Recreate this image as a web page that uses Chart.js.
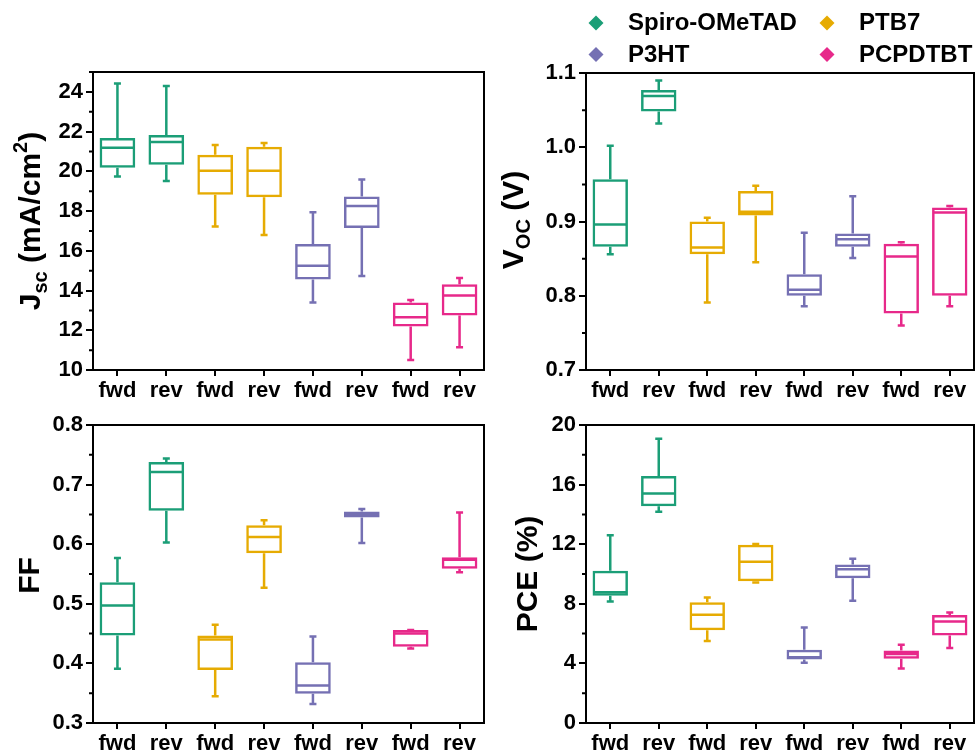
<!DOCTYPE html>
<html>
<head>
<meta charset="utf-8">
<script src="https://cdn.jsdelivr.net/npm/chart.js@4.4.0/dist/chart.umd.min.js"></script>
<style>
  html, body { margin: 0; padding: 0; background: #fff; }
  body { width: 975px; height: 754px; position: relative; overflow: hidden; }
  canvas { position: absolute; display: block; }
</style>
</head>
<body>
<canvas id="c1" width="490" height="400" style="left:0;top:0"></canvas>
<canvas id="c2" width="485" height="400" style="left:490px;top:0"></canvas>
<canvas id="c3" width="490" height="354" style="left:0;top:400px"></canvas>
<canvas id="c4" width="485" height="354" style="left:490px;top:400px"></canvas>
<script>
// ---------------- data ----------------
const categories = ['fwd','rev','fwd','rev','fwd','rev','fwd','rev'];
const materials = ['Spiro-OMeTAD','PTB7','P3HT','PCPDTBT'];
const materialColors = ['#1b9e77','#e6ab02','#7570b3','#e7298a'];
const categoryMaterial = [0,0,1,1,2,2,3,3];

// Jsc (mA/cm2)
const jscMin = [19.74,19.51,17.22,16.80,13.40,14.73,10.50,11.14];
const jscQ1  = [20.18,20.33,18.82,18.70,14.56,17.15,12.19,12.74];
const jscMed = [21.19,21.48,20.03,20.03,15.25,18.25,12.66,13.75];
const jscQ3  = [21.68,21.83,20.84,21.24,16.34,18.73,13.40,14.32];
const jscMax = [24.42,24.30,21.32,21.43,17.94,19.59,13.52,14.63];
const jscTicks = [10,12,14,16,18,20,22,24];
const jscTickLabels = ['10','12','14','16','18','20','22','24'];
const jscMinorTicks = [11,13,15,17,19,21,23,25];

// Voc (V)
const vocMin = [0.856,1.032,0.791,0.845,0.786,0.851,0.760,0.786];
const vocQ1  = [0.866,1.048,0.856,0.908,0.800,0.866,0.776,0.800];
const vocMed = [0.896,1.069,0.865,0.913,0.808,0.876,0.853,0.912];
const vocQ3  = [0.957,1.077,0.900,0.941,0.829,0.884,0.870,0.919];
const vocMax = [1.002,1.090,0.905,0.948,0.885,0.934,0.872,0.921];
const vocTicks = [0.7,0.8,0.9,1.0,1.1];
const vocTickLabels = ['0.7','0.8','0.9','1.0','1.1'];
const vocMinorTicks = [0.75,0.85,0.95,1.05];

// FF
const ffMin = [0.391,0.603,0.345,0.527,0.332,0.602,0.425,0.553];
const ffQ1  = [0.447,0.656,0.389,0.585,0.349,0.645,0.428,0.559];
const ffMed = [0.497,0.721,0.440,0.612,0.363,0.650,0.450,0.574];
const ffQ3  = [0.536,0.738,0.447,0.632,0.402,0.655,0.456,0.578];
const ffMax = [0.577,0.744,0.465,0.640,0.445,0.659,0.456,0.653];
const ffTicks = [0.3,0.4,0.5,0.6,0.7,0.8];
const ffTickLabels = ['0.3','0.4','0.5','0.6','0.7','0.8'];
const ffMinorTicks = [0.35,0.45,0.55,0.65,0.75];

// PCE (%)
const pceMin = [8.16,14.17,5.50,9.43,4.04,8.20,3.66,5.03];
const pceQ1  = [8.54,14.55,6.23,9.52,4.27,9.72,4.31,5.88];
const pceMed = [8.78,15.40,7.26,10.82,4.42,10.32,4.63,6.82];
const pceQ3  = [10.21,16.58,8.11,11.96,4.92,10.64,4.87,7.24];
const pceMax = [12.60,19.08,8.42,12.02,6.41,11.02,5.25,7.42];
const pceTicks = [0,4,8,12,16,20];
const pceTickLabels = ['0','4','8','12','16','20'];
const pceMinorTicks = [2,6,10,14,18];

// ---------------- drawing ----------------
const FONT = '"Liberation Sans", Arial, Helvetica, sans-serif';
Chart.defaults.font.family = FONT;
Chart.defaults.font.weight = 'bold';
Chart.defaults.font.size = 22;
Chart.defaults.color = '#000';

const catColors = categoryMaterial.map(m => materialColors[m]);

function drawRichTitle(ctx, parts, baseX, centerY) {
  const big = 30, small = 20;
  ctx.save();
  ctx.fillStyle = '#000';
  ctx.textBaseline = 'alphabetic';
  ctx.textAlign = 'left';
  let total = 0;
  parts.forEach(p => {
    ctx.font = 'bold ' + (p.s === 'n' ? big : small) + 'px ' + FONT;
    p.w = ctx.measureText(p.t).width;
    total += p.w;
  });
  ctx.translate(baseX, centerY);
  ctx.rotate(-Math.PI / 2);
  let x = -total / 2;
  parts.forEach(p => {
    ctx.font = 'bold ' + (p.s === 'n' ? big : small) + 'px ' + FONT;
    const dy = p.s === 'sub' ? 7 : (p.s === 'sup' ? -13 : 0);
    ctx.fillText(p.t, x, dy);
    x += p.w;
  });
  ctx.restore();
}

function drawLegend(ctx) {
  const pos = [[106, 23, 138, 30], [337, 23, 369, 30], [106, 54.5, 138, 61.5], [337, 54.5, 369, 61.5]];
  ctx.save();
  materials.forEach((m, i) => {
    const [dx, dy, tx, ty] = pos[i];
    ctx.fillStyle = materialColors[i];
    ctx.beginPath();
    ctx.moveTo(dx, dy - 7.5); ctx.lineTo(dx + 7.5, dy); ctx.lineTo(dx, dy + 7.5); ctx.lineTo(dx - 7.5, dy);
    ctx.closePath(); ctx.fill();
    ctx.fillStyle = '#000';
    ctx.font = 'bold 24px ' + FONT;
    ctx.textBaseline = 'alphabetic';
    ctx.fillText(m, tx, ty);
  });
  ctx.restore();
}

function makePanel(id, cfg) {
  const boxPlugin = {
    id: 'boxWhiskers',
    afterDatasetsDraw(chart) {
      const ctx = chart.ctx, xs = chart.scales.x, ys = chart.scales.y;
      const meta = chart.getDatasetMeta(0);
      const cap = 3.5;
      ctx.save();
      ctx.lineWidth = 2.5;
      categories.forEach((c, i) => {
        const x = xs.getPixelForValue(i);
        const w = meta.data[i].width;
        const yMin = ys.getPixelForValue(cfg.min[i]);
        const yMax = ys.getPixelForValue(cfg.max[i]);
        const yQ1 = ys.getPixelForValue(cfg.q1[i]);
        const yQ3 = ys.getPixelForValue(cfg.q3[i]);
        const yMed = ys.getPixelForValue(cfg.med[i]);
        ctx.strokeStyle = catColors[i];
        ctx.beginPath();
        ctx.moveTo(x, yQ3); ctx.lineTo(x, yMax);
        ctx.moveTo(x, yQ1); ctx.lineTo(x, yMin);
        ctx.moveTo(x - cap, yMax); ctx.lineTo(x + cap, yMax);
        ctx.moveTo(x - cap, yMin); ctx.lineTo(x + cap, yMin);
        ctx.moveTo(x - w / 2 + 1, yMed); ctx.lineTo(x + w / 2 - 1, yMed);
        ctx.stroke();
      });
      ctx.restore();
    }
  };
  const framePlugin = {
    id: 'frameAndExtras',
    afterDraw(chart) {
      const ctx = chart.ctx, a = chart.chartArea, ys = chart.scales.y;
      ctx.save();
      ctx.strokeStyle = '#000';
      ctx.lineWidth = 2;
      ctx.strokeRect(a.left, a.top, a.right - a.left, a.bottom - a.top);
      ctx.beginPath();
      cfg.minor.forEach(v => {
        const y = ys.getPixelForValue(v);
        ctx.moveTo(a.left - 4, y); ctx.lineTo(a.left, y);
      });
      ctx.stroke();
      ctx.restore();
      drawRichTitle(ctx, cfg.title, cfg.titleX, cfg.titleY);
      if (cfg.legend) drawLegend(ctx);
    }
  };
  return new Chart(document.getElementById(id), {
    type: 'bar',
    data: {
      labels: categories,
      datasets: [{
        data: cfg.q1.map((v, i) => [v, cfg.q3[i]]),
        backgroundColor: 'rgba(0,0,0,0)',
        borderColor: catColors,
        borderWidth: 2.5,
        borderSkipped: false,
        categoryPercentage: 1,
        barPercentage: 0.73
      }]
    },
    options: {
      responsive: false,
      animation: false,
      events: [],
      layout: { padding: { top: cfg.padTop, right: cfg.padRight, left: 0, bottom: 0 } },
      plugins: { legend: { display: false }, tooltip: { enabled: false } },
      scales: {
        x: {
          offset: true,
          grid: { offset: false, drawOnChartArea: false, drawTicks: true, tickLength: 6, color: '#000', lineWidth: 2 },
          border: { display: true, color: '#000', width: 2 },
          ticks: { padding: 2, font: { size: 22, weight: 'bold' }, color: '#000', maxRotation: 0, autoSkip: false },
          afterFit: s => { s.height = cfg.xHeight; }
        },
        y: {
          min: cfg.yMin, max: cfg.yMax,
          afterBuildTicks: s => { s.ticks = cfg.ticks.map(v => ({ value: v })); },
          grid: { drawOnChartArea: false, drawTicks: true, tickLength: 7, color: '#000', lineWidth: 2 },
          border: { display: true, color: '#000', width: 2 },
          ticks: { padding: 3, font: { size: 22, weight: 'bold' }, color: '#000',
                   callback: (v, i) => cfg.tickLabels[i] },
          afterFit: s => { s.width = cfg.yWidth; }
        }
      }
    },
    plugins: [boxPlugin, framePlugin]
  });
}

makePanel('c1', {
  min: jscMin, q1: jscQ1, med: jscMed, q3: jscQ3, max: jscMax,
  yMin: 10, yMax: 25, ticks: jscTicks, tickLabels: jscTickLabels, minor: jscMinorTicks,
  padTop: 72, padRight: 6, xHeight: 30, yWidth: 93,
  title: [{ t: 'J', s: 'n' }, { t: 'sc', s: 'sub' }, { t: ' (mA/cm', s: 'n' }, { t: '2', s: 'sup' }, { t: ')', s: 'n' }],
  titleX: 40, titleY: 221
});
makePanel('c2', {
  min: vocMin, q1: vocQ1, med: vocMed, q3: vocQ3, max: vocMax,
  yMin: 0.7, yMax: 1.1, ticks: vocTicks, tickLabels: vocTickLabels, minor: vocMinorTicks,
  padTop: 73, padRight: 1, xHeight: 30, yWidth: 96,
  title: [{ t: 'V', s: 'n' }, { t: 'OC', s: 'sub' }, { t: ' (V)', s: 'n' }],
  titleX: 33, titleY: 220, legend: true
});
makePanel('c3', {
  min: ffMin, q1: ffQ1, med: ffMed, q3: ffQ3, max: ffMax,
  yMin: 0.3, yMax: 0.8, ticks: ffTicks, tickLabels: ffTickLabels, minor: ffMinorTicks,
  padTop: 25, padRight: 6, xHeight: 31, yWidth: 93,
  title: [{ t: 'FF', s: 'n' }],
  titleX: 39, titleY: 175.5
});
makePanel('c4', {
  min: pceMin, q1: pceQ1, med: pceMed, q3: pceQ3, max: pceMax,
  yMin: 0, yMax: 20, ticks: pceTicks, tickLabels: pceTickLabels, minor: pceMinorTicks,
  padTop: 25, padRight: 1, xHeight: 31, yWidth: 96,
  title: [{ t: 'PCE (%)', s: 'n' }],
  titleX: 47, titleY: 174
});
</script>
</body>
</html>
